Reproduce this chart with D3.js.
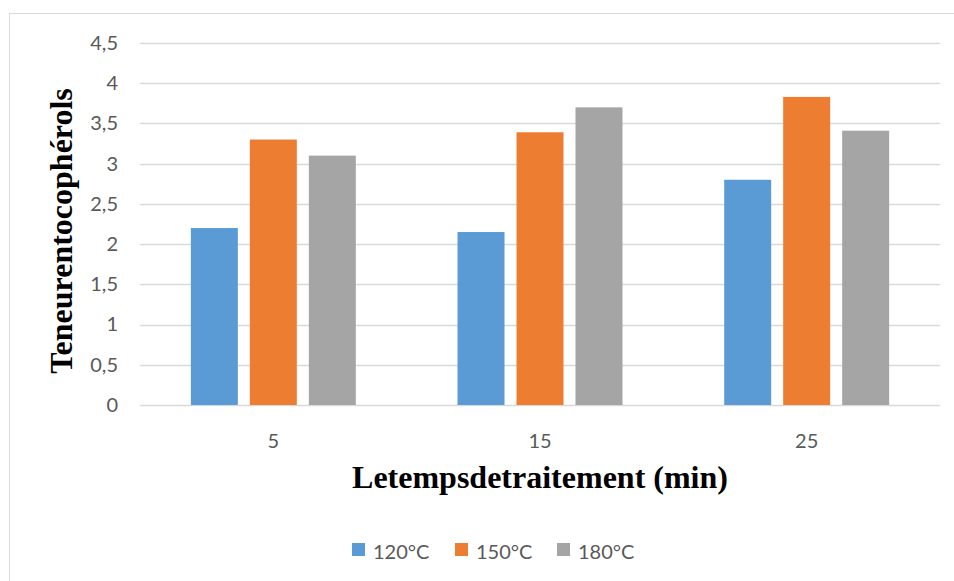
<!DOCTYPE html>
<html>
<head>
<meta charset="utf-8">
<script src="https://cdn.jsdelivr.net/npm/d3@7"></script>
<style>
  html, body { margin: 0; padding: 0; background: #fff; }
  svg { display: block; }
</style>
</head>
<body>
<svg id="chart" width="954" height="581"></svg>
<script>
// Tocopherol content by treatment time and temperature
const categories = ["5", "15", "25"];
const seriesNames = ["120°C", "150°C", "180°C"];
const values120 = [2.2, 2.15, 2.8];
const values150 = [3.3, 3.39, 3.83];
const values180 = [3.1, 3.7, 3.41];
const colors = ["#5B9BD5", "#ED7D31", "#A5A5A5"];
const yTicks = [0, 0.5, 1, 1.5, 2, 2.5, 3, 3.5, 4, 4.5];
const yTickLabels = ["0", "0,5", "1", "1,5", "2", "2,5", "3", "3,5", "4", "4,5"];

const series = [values120, values150, values180];

const svg = d3.select("#chart");
const W = 954, H = 581;
const margin = { left: 140, right: 14, top: 43, bottom: 176 };
const plotW = W - margin.left - margin.right;
const plotH = H - margin.top - margin.bottom;
const tickFont = "Lato, 'Open Sans', 'Liberation Sans', sans-serif";
const titleFont = "'Liberation Serif', 'Times New Roman', serif";

// Outer chart frame
svg.append("rect")
  .attr("x", 9.5).attr("y", 13.5)
  .attr("width", 960).attr("height", 600)
  .attr("fill", "#fff")
  .attr("stroke", "#D9D9D9").attr("stroke-width", 1);

const g = svg.append("g").attr("transform", `translate(${margin.left},${margin.top})`);

const x0 = d3.scaleBand().domain(categories).range([0, plotW]).paddingInner(0).paddingOuter(0);
const x1 = d3.scaleBand().domain(seriesNames).range([0, x0.bandwidth()]).paddingInner(0.2034).paddingOuter(0.862);
const y = d3.scaleLinear().domain([0, 4.5]).range([plotH, 0]);

// Gridlines
g.append("g")
  .selectAll("line")
  .data(yTicks)
  .join("line")
  .attr("x1", 0).attr("x2", plotW)
  .attr("y1", d => Math.round(y(d)) + 0.5).attr("y2", d => Math.round(y(d)) + 0.5)
  .attr("stroke", "#D9D9D9").attr("stroke-width", 1.5);

// Y axis labels
const yAxis = d3.axisLeft(y)
  .tickValues(yTicks)
  .tickFormat((d, i) => yTickLabels[i])
  .tickSize(0)
  .tickPadding(22);
const yAxisG = g.append("g").call(yAxis);
yAxisG.select(".domain").remove();
yAxisG.selectAll("text")
  .attr("fill", "#595959")
  .style("font-family", tickFont)
  .style("font-size", "20px");

// Bars
const groups = g.append("g")
  .selectAll("g")
  .data(categories)
  .join("g")
  .attr("transform", d => `translate(${x0(d)},0)`);

groups.selectAll("rect")
  .data((d, ci) => seriesNames.map((s, si) => ({ s, si, v: series[si][ci] })))
  .join("rect")
  .attr("x", d => x1(d.s))
  .attr("width", x1.bandwidth())
  .attr("y", d => y(d.v))
  .attr("height", d => plotH - y(d.v))
  .attr("fill", d => colors[d.si]);

// X axis labels
const xAxis = d3.axisBottom(x0).tickSize(0).tickPadding(29);
const xAxisG = g.append("g").attr("transform", `translate(0,${plotH})`).call(xAxis);
xAxisG.select(".domain").remove();
xAxisG.selectAll("text")
  .attr("fill", "#595959")
  .style("font-family", tickFont)
  .style("font-size", "20px");

// Axis titles
svg.append("text")
  .attr("x", margin.left + plotW / 2)
  .attr("y", 488)
  .attr("text-anchor", "middle")
  .style("font-family", titleFont)
  .style("font-weight", "bold")
  .style("font-size", "32px")
  .attr("fill", "#000")
  .text("Letempsdetraitement (min)");

svg.append("text")
  .attr("transform", `translate(72,231) rotate(-90)`)
  .attr("text-anchor", "middle")
  .style("font-family", titleFont)
  .style("font-weight", "bold")
  .style("font-size", "32px")
  .attr("fill", "#000")
  .text("Teneurentocophérols");

// Legend
const legendX = [352, 455, 557];
const legend = svg.append("g");
const items = legend.selectAll("g")
  .data(seriesNames)
  .join("g")
  .attr("transform", (d, i) => `translate(${legendX[i]},543)`);
items.append("rect")
  .attr("width", 13).attr("height", 13)
  .attr("fill", (d, i) => colors[i]);
items.append("text")
  .attr("x", 21).attr("y", 16)
  .attr("fill", "#595959")
  .style("font-family", tickFont)
  .style("font-size", "20px")
  .text(d => d);
</script>
</body>
</html>
